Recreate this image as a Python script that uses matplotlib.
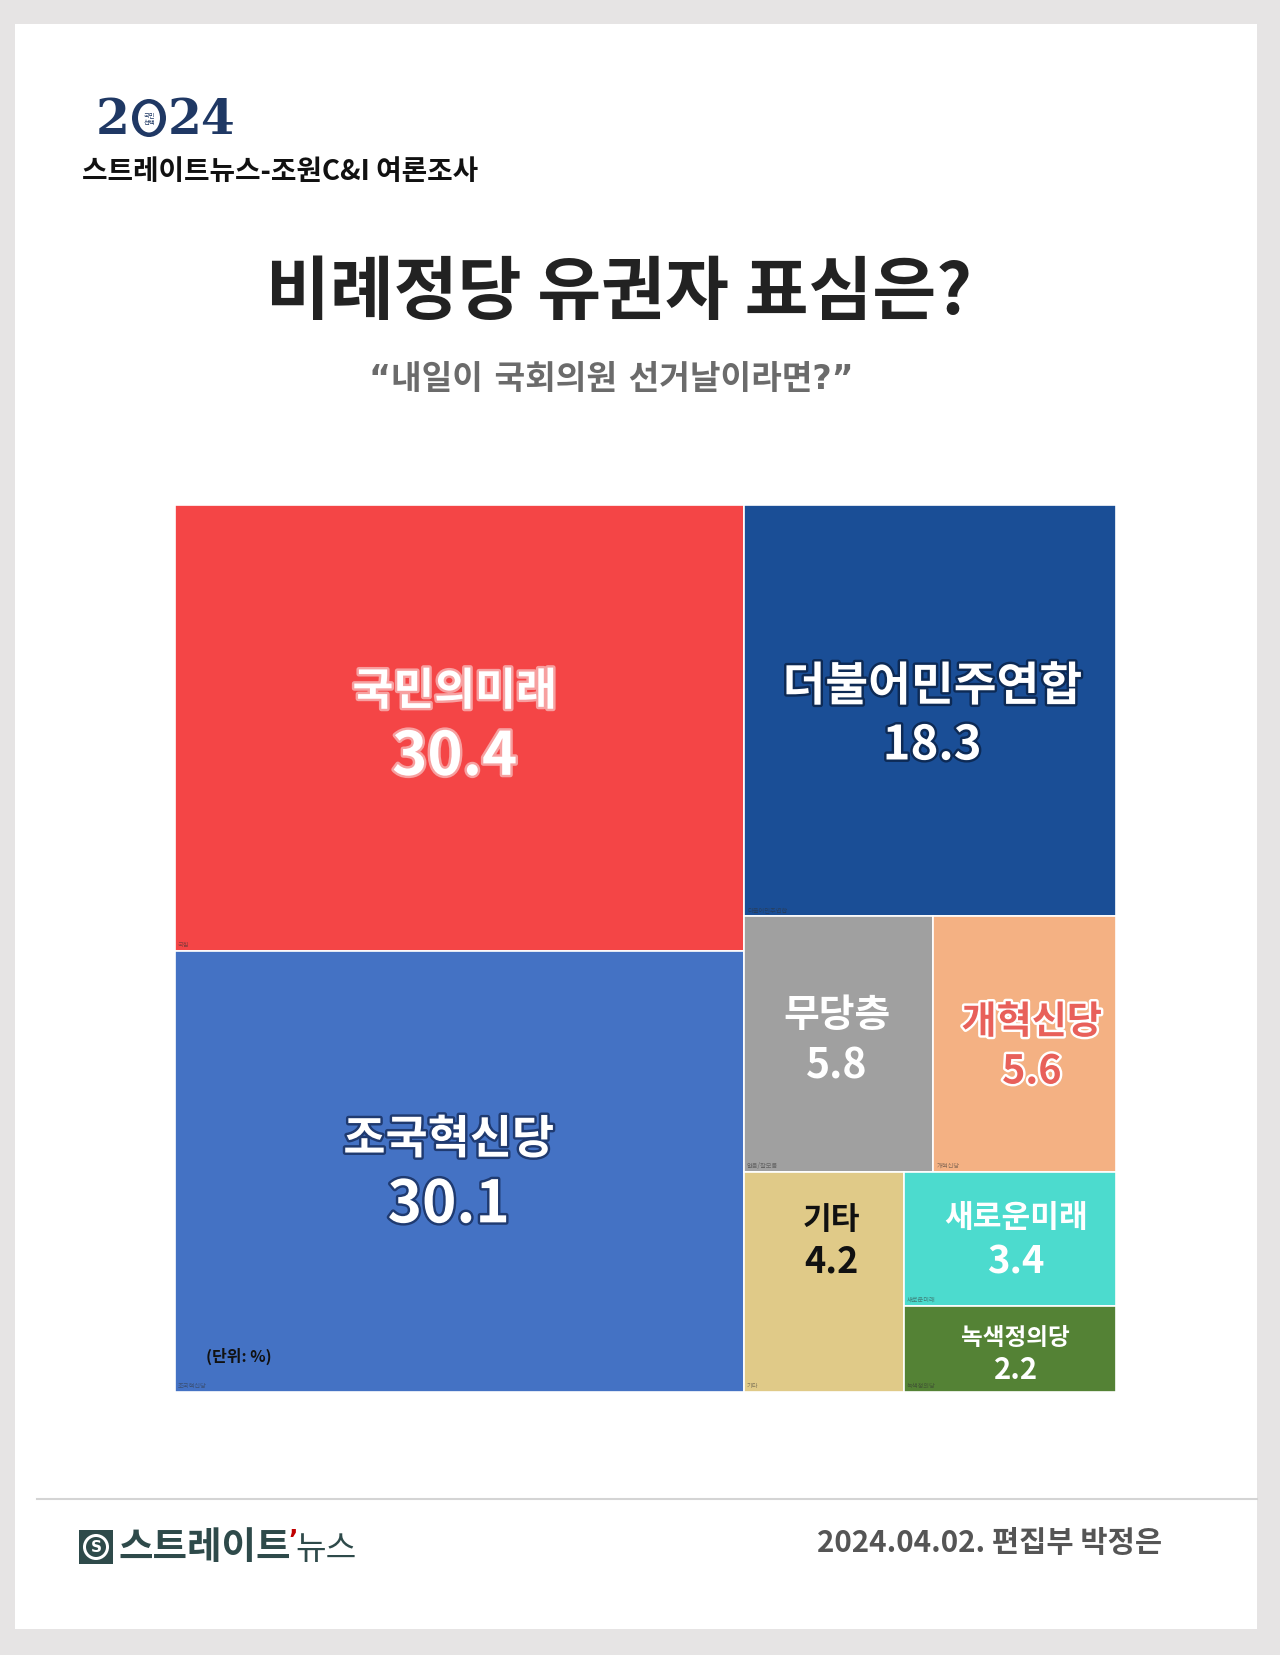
import matplotlib
matplotlib.use('Agg')
import matplotlib.pyplot as plt
import matplotlib.patheffects as pe
from matplotlib.patches import Rectangle, Ellipse

plt.rcParams['font.family'] = ['Noto Sans CJK KR', 'DejaVu Sans']

# poll data
parties = ['국민의미래', '조국혁신당', '더불어민주연합', '무당층', '개혁신당', '기타', '새로운미래', '녹색정의당']
shares = [30.4, 30.1, 18.3, 5.8, 5.6, 4.2, 3.4, 2.2]
tags = ['국힘', '조국혁신당', '더불어민주연합', '없음/잘모름', '개혁신당', '기타', '새로운미래', '녹색정의당']
colors = ['#F44546', '#4472C4', '#1A4E96', '#A0A0A0', '#F4B183', '#E0CA88', '#4CDBCE', '#548235']

# label styling: name size, value size, text colour, outline colour, dx, name dy, value dy (px)
label_style = {
    '국민의미래': (32, 43, 'white', '#F7A0A0', -5, -36, 30),
    '조국혁신당': (33, 42, 'white', '#1F3A70', -11, -31, 34),
    '더불어민주연합': (33.5, 34, 'white', '#0D2A55', 2, -24, 35),
    '무당층': (28, 29.5, 'white', None, -2, -29, 22),
    '개혁신당': (27.5, 28.5, '#E8605A', 'white', 7, -22, 28),
    '기타': (22.5, 26, '#111111', None, 7, -63, -21),
    '새로운미래': (22.5, 27.5, 'white', None, 6, -22, 22),
    '녹색정의당': (17, 21, 'white', None, 6, -12, 20),
}


def worst(row, side):
    s = sum(row)
    return max(max(side * side * r / (s * s), s * s / (side * side * r)) for r in row)


def squarify(values, x, y, w, h):
    rects = []
    vals = list(values)
    while vals:
        side = min(w, h)
        row = [vals[0]]
        i = 1
        while i < len(vals) and worst(row + [vals[i]], side) <= worst(row, side):
            row.append(vals[i])
            i += 1
        s = sum(row)
        if w >= h:
            cw = s / h
            yy = y
            for v in row:
                rects.append((x, yy, cw, v / cw))
                yy += v / cw
            x += cw
            w -= cw
        else:
            rh = s / w
            xx = x
            for v in row:
                rects.append((xx, y, v / rh, rh))
                xx += v / rh
            y += rh
            h -= rh
        vals = vals[i:]
    return rects


fig = plt.figure(figsize=(12.8, 16.56), dpi=100)
fig.patch.set_facecolor('#E6E4E4')

# page background in pixel coords
bg = fig.add_axes([0, 0, 1, 1])
bg.set_xlim(0, 1280)
bg.set_ylim(1656, 0)
bg.axis('off')
bg.add_patch(Rectangle((15, 25), 1242, 1605, facecolor='white', edgecolor='none'))
bg.plot([37, 1257], [1500, 1500], color='#D4D4D4', lw=1.5)

# 2024 logo
navy = '#1F3864'
logo_kw = dict(fontsize=35, family='DejaVu Serif', weight='bold', color=navy, ha='left', va='center')
bg.text(96, 121, '2', **logo_kw)
bg.add_patch(Ellipse((149, 119), 34, 38, facecolor=navy, edgecolor='none'))
bg.add_patch(Ellipse((149, 119), 22, 29, facecolor='white', edgecolor='none'))
bg.text(149, 119, '국민\n선택', fontsize=4.5, color=navy, ha='center', va='center', linespacing=1.0)
bg.text(168, 121, '24', **logo_kw)

bg.text(82, 172, '스트레이트뉴스-조원C&I 여론조사', fontsize=20, weight='bold', color='#111111',
        ha='left', va='center')
bg.text(619, 294, '비례정당 유권자 표심은?', fontsize=50, weight='bold', color='#222222',
        ha='center', va='center')
bg.text(611, 380, '“내일이 국회의원 선거날이라면?”', fontsize=24, weight='bold', color='#6B6B6B',
        ha='center', va='center', family=['DejaVu Sans', 'Noto Sans CJK KR'])

# footer
teal = '#2E4A4A'
bg.add_patch(Rectangle((79, 1531), 34, 34, facecolor=teal, edgecolor='none'))
bg.add_patch(Ellipse((96, 1548), 26, 26, facecolor='white', edgecolor='none'))
bg.add_patch(Ellipse((96, 1548), 20, 20, facecolor=teal, edgecolor='none'))
bg.text(96, 1548, 'S', fontsize=11, weight='bold', color='white', ha='center', va='center', family='DejaVu Sans')
bg.text(118, 1548, '스트레이트', fontsize=27, weight='bold', color=teal, ha='left', va='center')
bg.text(293, 1540, '’', fontsize=18, weight='bold', color='#C00000', ha='center', va='center', family='DejaVu Sans')
bg.text(357, 1550, '뉴스', fontsize=24, color=teal, ha='right', va='center')
bg.text(1162, 1543, '2024.04.02. 편집부 박정은', fontsize=21.3, weight='bold', color='#555555',
        ha='right', va='center')

# treemap
L, T, R, B = 175, 506, 1116, 1393
W, H = R - L, B - T
ax = fig.add_axes([L / 1280, 1 - B / 1656, W / 1280, H / 1656])
ax.set_xlim(0, W)
ax.set_ylim(H, 0)
ax.axis('off')

scale = W * H / sum(shares)
rects = squarify([v * scale for v in shares], 0, 0, W, H)

for name, val, tag, col, (x, y, w, h) in zip(parties, shares, tags, colors, rects):
    ax.add_patch(Rectangle((x, y), w, h, facecolor=col, edgecolor='white', lw=1.2))
    nfs, vfs, tc, oc, dx, ndy, vdy = label_style[name]
    effects = [pe.withStroke(linewidth=3.5, foreground=oc)] if oc else None
    cx, cy = x + w / 2, y + h / 2
    ax.annotate(name, xy=(cx, cy), xytext=(dx * 0.72, -ndy * 0.72), textcoords='offset points',
                ha='center', va='center', fontsize=nfs, weight='bold', color=tc, path_effects=effects)
    ax.annotate(f'{val:.1f}', xy=(cx, cy), xytext=(dx * 0.72, -vdy * 0.72), textcoords='offset points',
                ha='center', va='center', fontsize=vfs, weight='bold', color=tc, path_effects=effects)
    ax.annotate(tag, xy=(x, y + h), xytext=(2, 2), textcoords='offset points', ha='left', va='bottom',
                fontsize=4.5, color='#333333', alpha=0.55)

ax.annotate('(단위: %)', xy=(rects[1][0], rects[1][1] + rects[1][3]), xytext=(22, 26), textcoords='offset points',
            ha='left', va='center', fontsize=11.5, weight='bold', color='#111111')

fig.savefig('out.png', dpi=100, facecolor=fig.get_facecolor())
